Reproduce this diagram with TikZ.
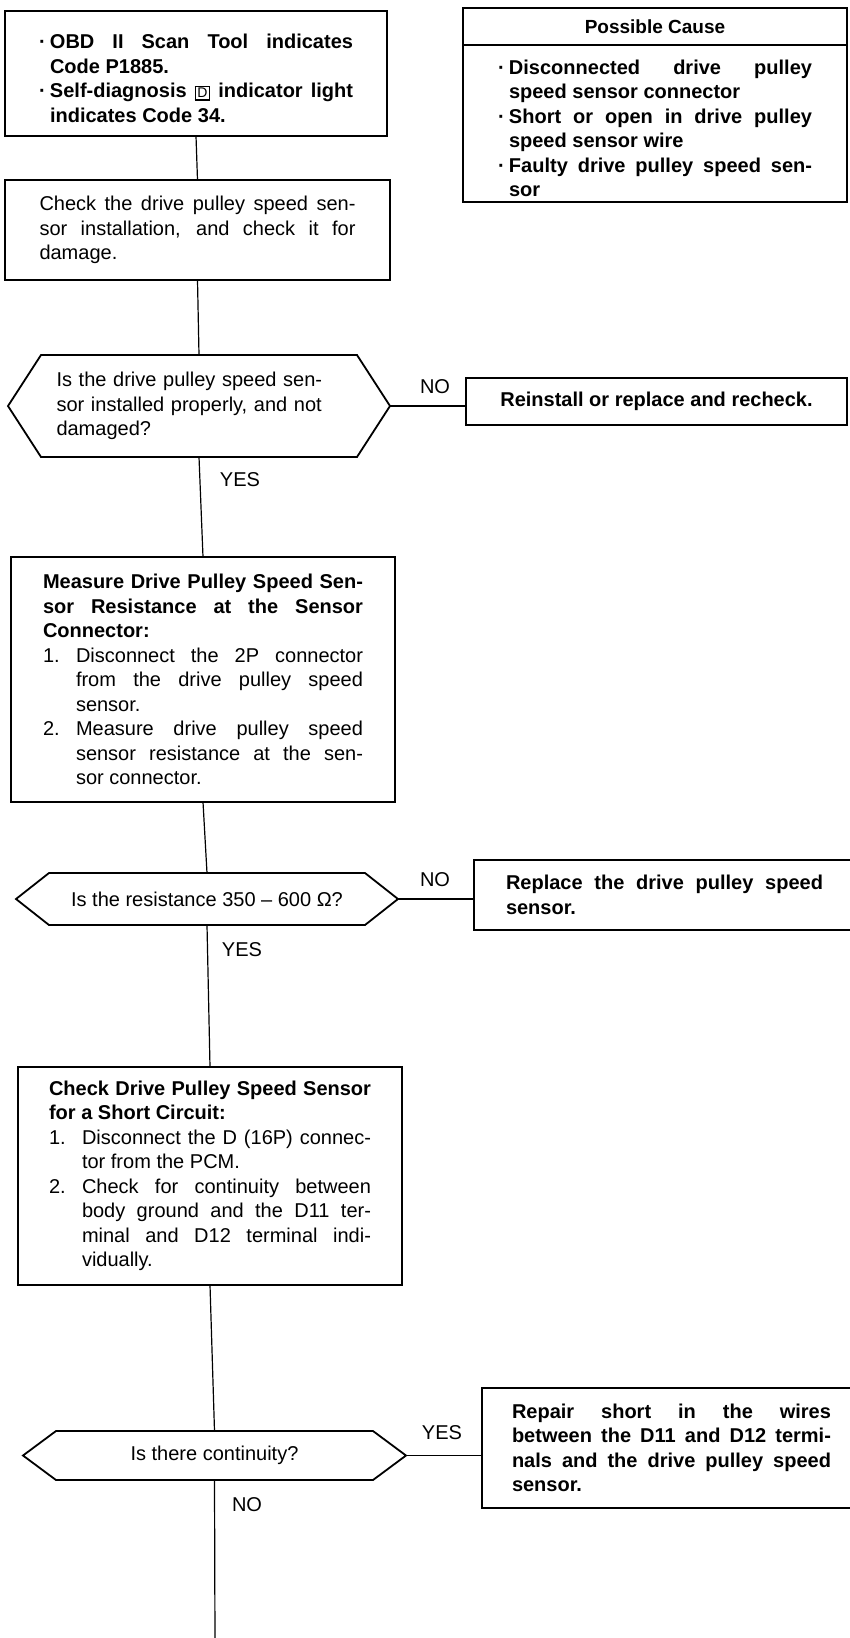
\documentclass[tikz,border=0pt]{standalone}
\usepackage{fontspec}
\setmainfont{Liberation Sans}
\usetikzlibrary{positioning}

% bullet and numbered lines with hanging indent
\newcommand{\bitem}{\par\noindent\hangindent=11pt\hangafter=1\makebox[11pt][l]{·}\ignorespaces}
\newcommand{\nitem}[1]{\par\noindent\hangindent=33pt\hangafter=1\makebox[33pt][l]{#1.}\ignorespaces}
\newcommand{\dbox}[1]{{\fboxsep=1.5pt\fboxrule=1.2pt\fbox{\fontsize{14}{14}\selectfont\mdseries #1}}}
% justified lines that break only where told
\newcommand{\jset}{\spaceskip=5.6pt plus 60pt minus 2pt\xspaceskip=\spaceskip
    \hyphenpenalty=10000 \exhyphenpenalty=10000 \tolerance=10000 }

\begin{document}
\begin{tikzpicture}[
    x=1pt, y=-1pt,
    txt/.style={font=\fontsize{20}{24.5}\selectfont},
    btxt/.style={font=\fontsize{20}{24.5}\selectfont\bfseries},
    box/.style={draw, line width=1.8pt, inner sep=0pt, outer sep=0pt},
    para/.style={align=justify},
    decision/.style={inner sep=0pt, outer sep=0pt},
    wire/.style={line width=1.2pt},
    lbl/.style={inner sep=0pt, txt}
]
    \useasboundingbox (0,0) rectangle (849,1638);

    % Start box
    \node[box, para, minimum width=382pt, minimum height=125pt, text width=314pt, btxt] (obd) at (196, 73.5) {\jset
        \bitem OBD II Scan Tool indicates\linebreak Code P1885.
        \bitem Self-diagnosis \dbox{D} indicator light\linebreak indicates Code 34.\par};

    % Possible Cause table
    \node[box, minimum width=384pt, minimum height=37pt, font=\fontsize{19}{22}\selectfont\bfseries] (pchead) at (655, 26.5) {Possible Cause};
    \node[box, para, minimum width=384pt, minimum height=157pt, text width=314pt, btxt, below=0pt of pchead] (pcbody) {\jset
        \bitem Disconnected drive pulley\linebreak speed sensor connector
        \bitem Short or open in drive pulley\linebreak speed sensor wire
        \bitem Faulty drive pulley speed sen-\linebreak sor\par};

    % Installation check
    \node[box, para, minimum width=385pt, minimum height=100pt, text width=316pt, txt] (inst) at (197.5, 230) {\jset
        Check the drive pulley speed sen-\linebreak sor installation, and check it for\linebreak damage.\par};

    \node[decision, minimum width=382pt, minimum height=102pt, text width=285pt, align=left, txt] (dec1) at (199, 406) {%
        Is the drive pulley speed sen-\\ sor installed properly, and not\\ damaged?};
    \node[box, minimum width=381pt, minimum height=47pt, btxt] (rein) at (656.5, 401.5) {Reinstall or replace and recheck.};

    % Resistance measurement
    \node[box, para, minimum width=384pt, minimum height=245pt, text width=320pt, txt] (meas) at (203, 679.5) {\jset
        \noindent\textbf{Measure Drive Pulley Speed Sen-\linebreak sor Resistance at the Sensor\linebreak Connector:}
        \nitem{1} Disconnect the 2P connector\linebreak from the drive pulley speed\linebreak sensor.
        \nitem{2} Measure drive pulley speed\linebreak sensor resistance at the sen-\linebreak sor connector.\par};

    \node[decision, minimum width=382pt, minimum height=52pt, txt] (dec2) at (207, 899) {Is the resistance 350 – 600 Ω?};
    \node[box, para, anchor=west, inner xsep=32pt, minimum height=70pt, text width=317pt, btxt] (repl) at (474, 895) {\jset
        Replace the drive pulley speed\linebreak sensor.\par};

    % Short circuit check
    \node[box, para, minimum width=384pt, minimum height=218pt, text width=322pt, txt] (short) at (210, 1176) {\jset
        \noindent\textbf{Check Drive Pulley Speed Sensor\linebreak for a Short Circuit:}
        \nitem{1} Disconnect the D (16P) connec-\linebreak tor from the PCM.
        \nitem{2} Check for continuity between\linebreak body ground and the D11 ter-\linebreak minal and D12 terminal indi-\linebreak vidually.\par};

    \node[decision, minimum width=383pt, minimum height=49pt, txt] (dec3) at (214.5, 1455.5) {Is there continuity?};
    \node[box, para, anchor=west, inner xsep=30pt, minimum height=120pt, text width=319pt, btxt] (repair) at (482, 1448) {\jset
        Repair short in the wires\linebreak between the D11 and D12 termi-\linebreak nals and the drive pulley speed\linebreak sensor.\par};

    \coordinate (tail) at (215, 1645);

    % Hexagon outlines
    \foreach \d in {dec1, dec2, dec3}
        \draw[line width=1.8pt] (\d.west) -- ([xshift=33pt]\d.north west) -- ([xshift=-33pt]\d.north east)
            -- (\d.east) -- ([xshift=-33pt]\d.south east) -- ([xshift=33pt]\d.south west) -- cycle;

    % Main line
    \draw[wire] (obd.south) -- (inst.north);
    \draw[wire] (inst.south) -- (dec1.north);
    \draw[wire] (dec1.south) -- (meas.north);
    \draw[wire] (meas.south) -- (dec2.north);
    \draw[wire] (dec2.south) -- (short.north);
    \draw[wire] (short.south) -- (dec3.north);
    \draw[wire] (dec3.south) -- (tail);

    % Side branches
    \draw[wire] (dec1.east) -- (dec1.east -| rein.west);
    \draw[wire] (dec2.east) -- (dec2.east -| repl.west);
    \draw[wire] (dec3.east) -- (dec3.east -| repair.west);

    % Branch labels
    \node[lbl] (no1) at (435, 387) {NO};
    \node[lbl] (yes1) at (240, 480) {YES};
    \node[lbl] (no2) at (435, 880) {NO};
    \node[lbl] (yes2) at (242, 950) {YES};
    \node[lbl] (yes3) at (442, 1433) {YES};
    \node[lbl] (no3) at (247, 1505) {NO};
\end{tikzpicture}
\end{document}
